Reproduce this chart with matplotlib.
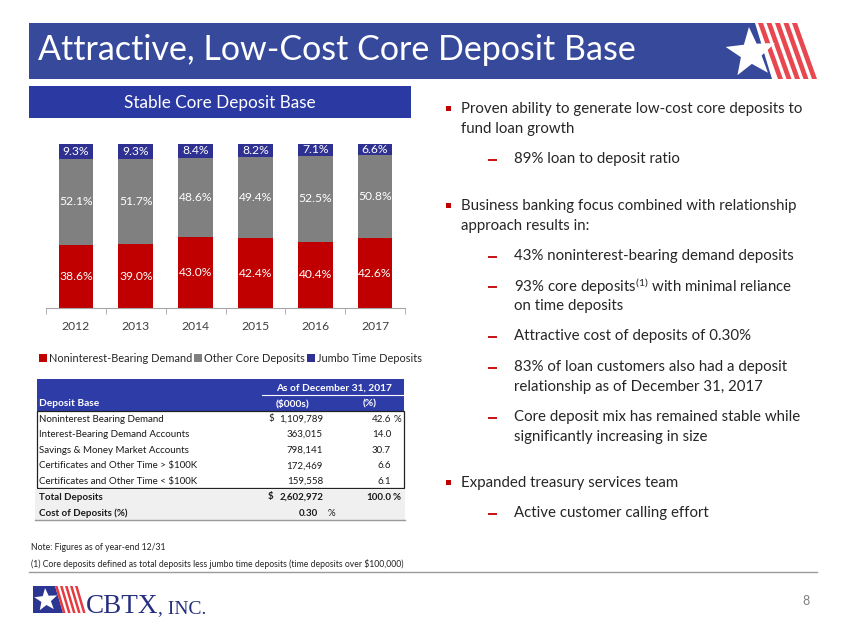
import numpy as np
import matplotlib
matplotlib.use("Agg")
import matplotlib.pyplot as plt
from matplotlib.patches import Polygon, Rectangle

plt.rcParams['font.family'] = ['Lato', 'DejaVu Sans']

# chart data
years = ['2012', '2013', '2014', '2015', '2016', '2017']
nonint_demand = [38.6, 39.0, 43.0, 42.4, 40.4, 42.6]
other_core = [52.1, 51.7, 48.6, 49.4, 52.5, 50.8]
jumbo_time = [9.3, 9.3, 8.4, 8.2, 7.1, 6.6]

# table data
table_rows = ['Noninterest Bearing Demand', 'Interest-Bearing Demand Accounts',
              'Savings & Money Market Accounts', 'Certificates and Other Time > $100K',
              'Certificates and Other Time < $100K']
table_amounts = [1109789, 363015, 798141, 172469, 159558]
table_pcts = [42.6, 14.0, 30.7, 6.6, 6.1]
total_amount = 2602972
total_pct = 100.0
cost_of_deposits = 0.30

# bullet text
bullets = [
    (0, ['Proven ability to generate low-cost core deposits to', 'fund loan growth']),
    (1, ['89% loan to deposit ratio']),
    (0, ['Business banking focus combined with relationship', 'approach results in:']),
    (1, ['43% noninterest-bearing demand deposits']),
    (1, [r'93% core deposits$\mathregular{^{(1)}}$ with minimal reliance', 'on time deposits']),
    (1, ['Attractive cost of deposits of 0.30%']),
    (1, ['83% of loan customers also had a deposit', 'relationship as of December 31, 2017']),
    (1, ['Core deposit mix has remained stable while', 'significantly increasing in size']),
    (0, ['Expanded treasury services team']),
    (1, ['Active customer calling effort']),
]
bullet_y = [109, 159, 206, 256, 286, 336, 367, 417, 483, 513]

RED = '#C00000'
GREY = '#808080'
BLUE = '#2E3192'
W, H = 847, 635

fig = plt.figure(figsize=(W / 100, H / 100), dpi=100)
bg = fig.add_axes([0, 0, 1, 1])
bg.set_xlim(0, W)
bg.set_ylim(H, 0)
bg.axis('off')


def star(cx, cy, r, rot=0):
    pts = []
    for i in range(10):
        rr = r if i % 2 == 0 else r * 0.42
        a = np.pi / 2 + rot + i * np.pi / 5
        pts.append((cx + rr * np.cos(a), cy - rr * np.sin(a)))
    return pts


# title bar with flag
bg.add_patch(Polygon([(29, 23), (755, 23), (772, 79), (29, 79)], color='#37499B', lw=0))
for x0 in [758, 766.5, 775, 783.5, 792]:
    bg.add_patch(Polygon([(x0, 23), (x0 + 5, 23), (x0 + 25, 79), (x0 + 20, 79)],
                         color='#E8474F', lw=0))
bg.add_patch(Polygon(star(751, 53, 26, 0.08), color='white', lw=0))
bg.text(38, 50, 'Attractive, Low-Cost Core Deposit Base', color='white',
        fontsize=24.5, va='center', ha='left')

# subtitle bar
bg.add_patch(Rectangle((29, 86), 382, 32, color='#2B39A3', lw=0))
bg.text(220, 103, 'Stable Core Deposit Base', color='white', fontsize=12.3,
        ha='center', va='center')

# stacked bar chart
ax = fig.add_axes([46 / W, (H - 308) / H, 359 / W, 164 / H])
x = np.arange(len(years))
b1 = ax.bar(x, nonint_demand, width=0.58, color=RED, label='Noninterest-Bearing Demand')
b2 = ax.bar(x, other_core, width=0.58, bottom=nonint_demand, color=GREY,
            label='Other Core Deposits')
bottom3 = [a + b for a, b in zip(nonint_demand, other_core)]
b3 = ax.bar(x, jumbo_time, width=0.58, bottom=bottom3, color=BLUE,
            label='Jumbo Time Deposits')
for bars, vals in [(b1, nonint_demand), (b2, other_core), (b3, jumbo_time)]:
    ax.bar_label(bars, labels=[f'{v:.1f}%' for v in vals], label_type='center',
                 color='white', fontsize=8.7)
ax.set_xlim(-0.5, len(years) - 0.5)
ax.set_ylim(0, 100)
ax.set_xticks(x)
ax.set_xticklabels(years, fontsize=8.7, color='#404040')
ax.set_xticks(np.arange(-0.5, len(years)), minor=True)
ax.tick_params(axis='x', which='major', length=0, pad=9)
ax.tick_params(axis='x', which='minor', length=4, color='#A6A6A6')
ax.set_yticks([])
for s in ['top', 'right', 'left']:
    ax.spines[s].set_visible(False)
ax.spines['bottom'].set_color('#A6A6A6')
ax.patch.set_visible(False)
ax.legend(handles=[b1, b2, b3], loc='center left', ncol=3, frameon=False,
          bbox_to_anchor=(39 / W, (H - 358) / H), bbox_transform=fig.transFigure,
          fontsize=7.9, handlelength=0.7, handleheight=0.7, handletextpad=0.2,
          columnspacing=0.2, borderpad=0, borderaxespad=0, labelcolor='#262626')

# deposit table
TX = '#1A1A1A'
FS = 7
bg.add_patch(Rectangle((37, 379), 367, 32, color='#2E3CA8', lw=0))
bg.plot([262, 404], [395, 395], color='white', lw=0.8)
bg.text(334, 388, 'As of December 31, 2017', color='white', fontsize=FS + 0.3,
        fontweight='bold', ha='center', va='center')
bg.text(39, 404, 'Deposit Base', color='white', fontsize=FS + 0.3, fontweight='bold',
        va='center')
bg.text(293, 404, '($000s)', color='white', fontsize=FS + 0.3, fontweight='bold',
        ha='center', va='center')
bg.text(370, 404, '(%)', color='white', fontsize=FS + 0.3, fontweight='bold',
        ha='center', va='center')
bg.add_patch(Rectangle((37, 411), 367, 77, facecolor='white', edgecolor='#222222', lw=0.9))
for i, (name, amt, pct) in enumerate(zip(table_rows, table_amounts, table_pcts)):
    y = 419 + i * 15.6
    bg.text(39, y, name, color=TX, fontsize=FS, va='center')
    if i == 0:
        bg.text(268, y, '$', color=TX, fontsize=FS, va='center')
        bg.text(401, y, '%', color=TX, fontsize=FS, va='center', ha='right')
    bg.text(323, y, f'{amt:,}', color=TX, fontsize=FS, va='center', ha='right')
    bg.text(391, y, f'{pct:.1f}', color=TX, fontsize=FS, va='center', ha='right')
bg.add_patch(Rectangle((35, 488.5), 370, 31.5, color='#F0F0F0', lw=0))
bg.plot([35, 405], [520, 520], color='#999999', lw=1)
bg.text(39, 497, 'Total Deposits', color=TX, fontsize=FS, fontweight='bold', va='center')
bg.text(268, 497, '$', color=TX, fontsize=FS, fontweight='bold', va='center')
bg.text(323, 497, f'{total_amount:,}', color=TX, fontsize=FS, fontweight='bold',
        va='center', ha='right')
bg.text(391, 497, f'{total_pct:.1f}', color=TX, fontsize=FS, fontweight='bold',
        va='center', ha='right')
bg.text(401, 497, '%', color=TX, fontsize=FS, fontweight='bold', va='center', ha='right')
bg.text(39, 513, 'Cost of Deposits (%)', color=TX, fontsize=FS, fontweight='bold',
        va='center')
bg.text(318, 513, f'{cost_of_deposits:.2f}', color=TX, fontsize=FS, fontweight='bold',
        va='center', ha='right')
bg.text(328, 514, '%', color=TX, fontsize=FS, va='center')

# bullet points
for (level, lines), y in zip(bullets, bullet_y):
    if level == 0:
        bg.add_patch(Rectangle((446, y - 3), 4.5, 4.5, color=RED, lw=0))
        tx = 461
    else:
        bg.plot([488, 497], [y + 0.5, y + 0.5], color=RED, lw=1.3,
                solid_capstyle='butt')
        tx = 514
    for j, line in enumerate(lines):
        bg.text(tx, y + j * 20, line, color='#262626', fontsize=10.8, va='center')

# footnotes
bg.text(31, 548, 'Note: Figures as of year-end 12/31', fontsize=6.2, color='#222222',
        va='center')
bg.text(31, 564, '(1) Core deposits defined as total deposits less jumbo time deposits '
        '(time deposits over $100,000)', fontsize=6.2, color='#222222', va='center')
bg.plot([29, 817], [572, 572], color='#9A9A9A', lw=1)

# logo
bg.add_patch(Polygon([(33, 586), (55, 586), (63, 613), (33, 613)], color='#2B3592', lw=0))
for x0 in [55, 60, 65, 70, 75]:
    bg.add_patch(Polygon([(x0, 586), (x0 + 2.6, 586), (x0 + 10.6, 613), (x0 + 8, 613)],
                         color='#E53A40', lw=0))
bg.add_patch(Polygon(star(46, 600, 12, 0.08), color='white', lw=0))
logo = bg.text(86, 613, 'CBTX', family='Liberation Serif', fontsize=19.5,
               color='#262F7E', va='baseline')
fig.canvas.draw()
ext = logo.get_window_extent(fig.canvas.get_renderer())
x_end = bg.transData.inverted().transform((ext.x1, ext.y0))[0]
bg.text(x_end, 613, ', INC.', family='Liberation Serif', fontsize=14,
        color='#262F7E', va='baseline')

# page number
bg.text(806, 601, '8', fontsize=9, color='#7F7F7F', ha='center', va='center')

fig.savefig('out.png', dpi=100)
